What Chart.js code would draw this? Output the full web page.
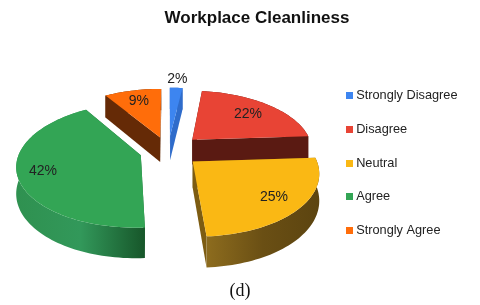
<!DOCTYPE html>
<html>
<head>
<meta charset="utf-8">
<title>Workplace Cleanliness</title>
<script src="https://cdn.jsdelivr.net/npm/chart.js@4"></script>
<style>
  html, body { margin: 0; padding: 0; background: #fff; }
  canvas { display: block; filter: blur(0.4px); }
</style>
</head>
<body>
<canvas id="pie" width="480" height="305"></canvas>
<script>
const categories = ["Strongly Disagree", "Disagree", "Neutral", "Agree", "Strongly Agree"];
const percents = [2, 22, 25, 42, 9];

//slice looks
const faceColors = ["#3d85f0", "#e84435", "#fab814", "#33a555", "#ff6d0a"];
const wallColors = ["#2f6ccb", "#5a1a12", "#7d5c12", "#1f6a36", "#652a06"];
const rimColors = [
    ["#2f6ccb", "#2f6ccb"],
    ["#5a1a12", "#5a1a12"],
    ["#8d6c1e", "#6a4f14", "#5c4410"],
    ["#2f9150", "#32985a", "#17562a"],
    ["#652a06", "#652a06"]
];
const sliceOffsets = [28, 30, 28, 25, 26];
const labelReach = [1.22, 0.72, 0.78, 0.8, 0.75];

//fake 3d: the flat pie chart.js lays out gets tipped back in perspective
const screenRadius = 121;
const tilt = 0.494;
const perspective = 0.154;
const depth = 25.5;
const pieShiftX = -2;

//small square for the legend, so the text can sit close to it
function swatch(color) {
    const c = document.createElement("canvas");
    c.width = 7;
    c.height = 7;
    const g = c.getContext("2d");
    g.fillStyle = color;
    g.fillRect(0, 0, 7, 7);
    return c;
}
const swatches = faceColors.map(swatch);

const tiltedPie = {
    id: "tiltedPie",
    afterLayout(chart) {
        //title sits right of the page centre in the original
        chart.titleBlock.left = 34;
        chart.legend.left -= 12.5;
        chart.legend.right -= 12.5;
        chart.legend.top += 8;
        chart.legend.bottom += 8;
    },
    beforeDatasetsDraw(chart) {
        const ctx = chart.ctx;
        const arcs = chart.getDatasetMeta(0).data;
        const scale = screenRadius / arcs[0].outerRadius;
        const cx = arcs[0].x + pieShiftX, cy = arcs[0].y;

        //plane point (library pixels from the centre) to screen, z is height below the top face
        const project = (x, y, z) => {
            const w = 1 - perspective * (y * scale) / screenRadius;
            return [cx + x * scale / w, cy + (y * scale * tilt + z) / w];
        };
        const fillPath = (pts, fill) => {
            ctx.beginPath();
            pts.forEach((p, i) => i ? ctx.lineTo(p[0], p[1]) : ctx.moveTo(p[0], p[1]));
            ctx.closePath();
            ctx.fillStyle = fill;
            ctx.fill();
        };

        const slices = arcs.map((arc, i) => {
            const mid = (arc.startAngle + arc.endAngle) / 2;
            const off = arc.options.offset;
            const ax = Math.cos(mid) * off, ay = Math.sin(mid) * off;
            const rim = [];
            const steps = Math.max(2, Math.ceil((arc.endAngle - arc.startAngle) / 0.03));
            for (let s = 0; s <= steps; s++) {
                const a = arc.startAngle + (arc.endAngle - arc.startAngle) * s / steps;
                rim.push([ax + Math.cos(a) * arc.outerRadius, ay + Math.sin(a) * arc.outerRadius]);
            }
            return {i, mid, ax, ay, rim, r: arc.outerRadius};
        });

        //back slices first
        slices.slice().sort((a, b) => Math.sin(a.mid) - Math.sin(b.mid)).forEach(sl => {
            const top = sl.rim.map(p => project(p[0], p[1], 0));
            const low = sl.rim.map(p => project(p[0], p[1], depth));
            const apexTop = project(sl.ax, sl.ay, 0);
            const apexLow = project(sl.ax, sl.ay, depth);
            const last = top.length - 1;

            fillPath([apexTop, top[0], low[0], apexLow], wallColors[sl.i]);
            fillPath([apexTop, top[last], low[last], apexLow], wallColors[sl.i]);

            const xs = top.map(p => p[0]);
            const grad = ctx.createLinearGradient(Math.min(...xs), 0, Math.max(...xs), 0);
            rimColors[sl.i].forEach((c, n, all) => grad.addColorStop(n / (all.length - 1), c));
            fillPath(top.concat(low.slice().reverse()), grad);

            fillPath([apexTop].concat(top), faceColors[sl.i]);
        });

        //percent labels
        ctx.font = "14px 'Liberation Sans'";
        ctx.textAlign = "center";
        ctx.textBaseline = "middle";
        ctx.fillStyle = "#222";
        slices.forEach(sl => {
            const reach = sl.r * labelReach[sl.i];
            const p = project(sl.ax + Math.cos(sl.mid) * reach, sl.ay + Math.sin(sl.mid) * reach, 0);
            ctx.fillText(percents[sl.i] + "%", p[0], p[1]);
        });
        return false;
    }
};

new Chart(document.getElementById("pie"), {
    type: "pie",
    data: {
        labels: categories,
        datasets: [{
            data: percents,
            backgroundColor: faceColors,
            borderWidth: 0,
            offset: sliceOffsets
        }]
    },
    plugins: [tiltedPie],
    options: {
        responsive: false,
        animation: false,
        devicePixelRatio: 1,
        layout: { padding: { top: 8, right: 0, bottom: 3, left: 0 } },
        plugins: {
            tooltip: { enabled: false },
            title: {
                display: true,
                text: "Workplace Cleanliness",
                color: "#111",
                font: { family: "'Liberation Sans'", size: 17, weight: "bold" },
                padding: { top: 0, bottom: 1 }
            },
            subtitle: {
                display: true,
                position: "bottom",
                text: "(d)",
                color: "#111",
                font: { family: "'Liberation Serif'", size: 18, weight: "normal" },
                padding: { top: 8, bottom: 0 }
            },
            legend: {
                position: "right",
                labels: {
                    usePointStyle: true,
                    pointStyleWidth: 1,
                    boxHeight: 7,
                    padding: 21,
                    color: "#222",
                    font: { family: "'Liberation Sans'", size: 12.75 },
                    generateLabels(chart) {
                        const base = Chart.overrides.pie.plugins.legend.labels.generateLabels(chart);
                        return base.map((item, i) => ({...item, pointStyle: swatches[i]}));
                    }
                }
            }
        }
    }
});
</script>
</body>
</html>
